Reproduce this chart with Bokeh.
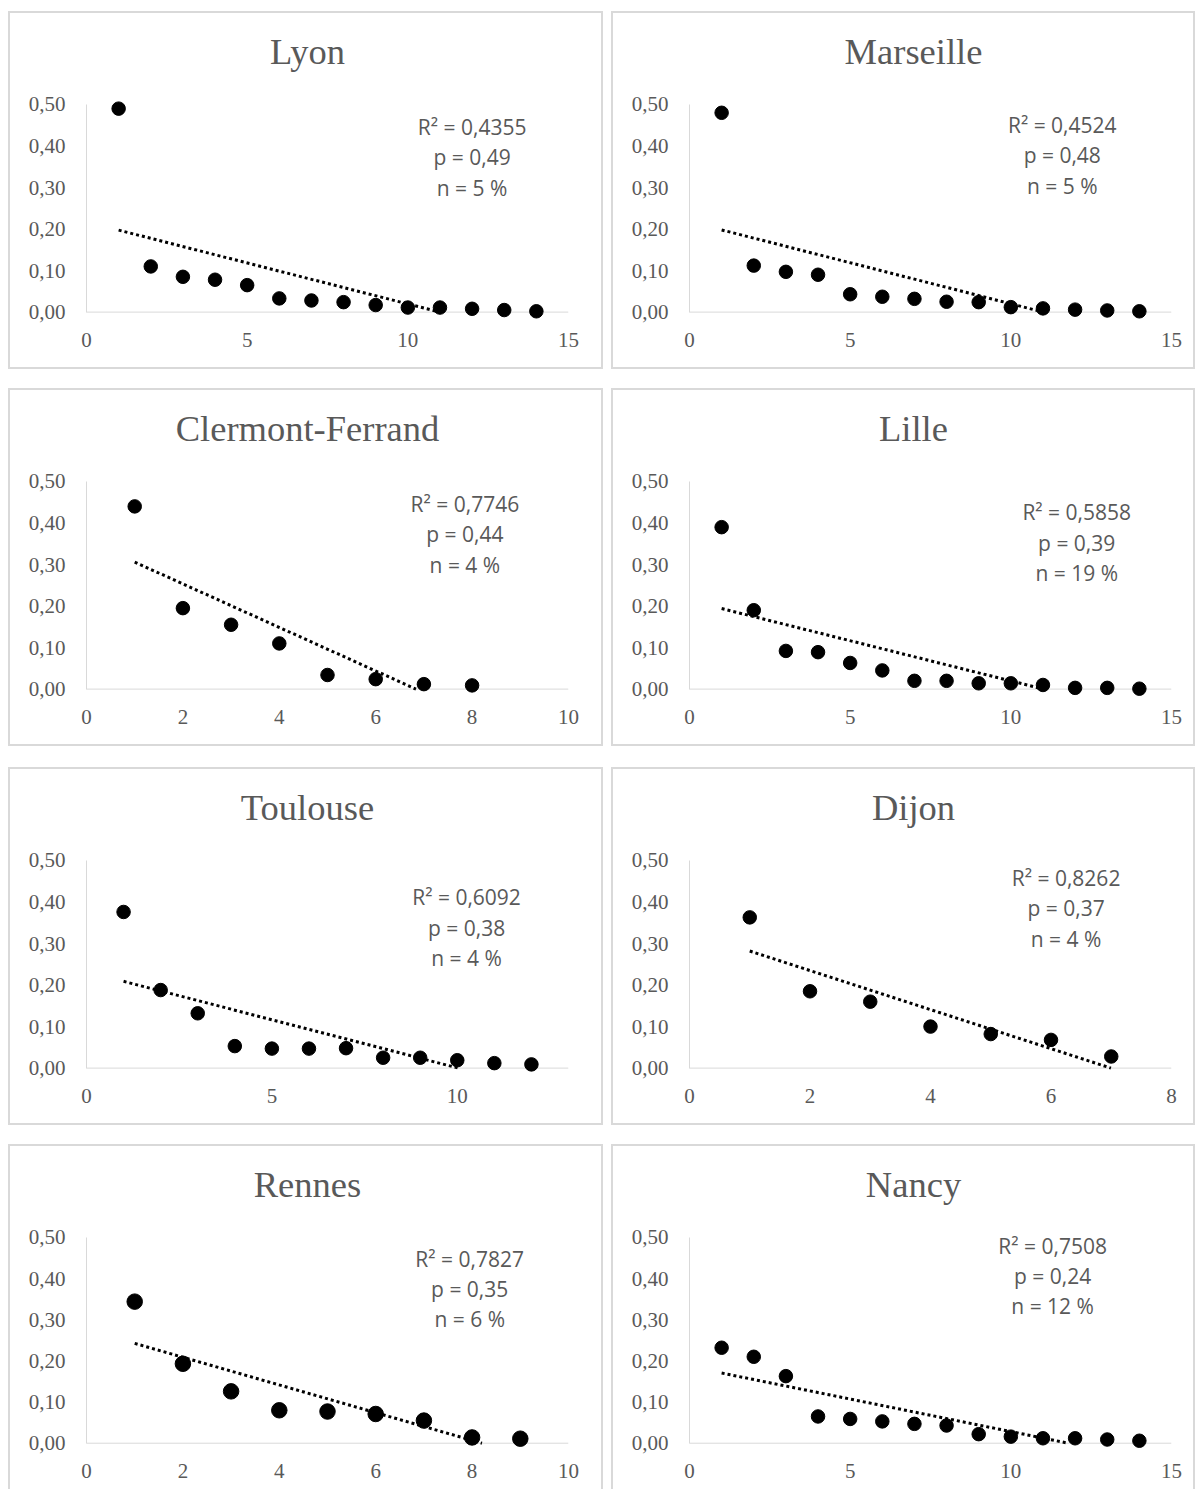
import numpy as np
from bokeh.plotting import figure
from bokeh.models import (Range1d, FixedTicker, CustomJSTickFormatter, ColumnDataSource,
                          Spacer, Span)
from bokeh.layouts import column, row
from bokeh.core.properties import value
from bokeh.embed import file_html
from bokeh.resources import INLINE

# ---------------- data ----------------
cities = ["Lyon", "Marseille", "Clermont-Ferrand", "Lille",
          "Toulouse", "Dijon", "Rennes", "Nancy"]

x_lyon = [1, 2, 3, 4, 5, 6, 7, 8, 9, 10, 11, 12, 13, 14]
y_lyon = [0.49, 0.11, 0.085, 0.078, 0.065, 0.033, 0.028, 0.024, 0.017, 0.011, 0.011, 0.008, 0.005, 0.002]

x_marseille = [1, 2, 3, 4, 5, 6, 7, 8, 9, 10, 11, 12, 13, 14]
y_marseille = [0.48, 0.112, 0.097, 0.09, 0.043, 0.037, 0.032, 0.025, 0.024, 0.012, 0.009, 0.006, 0.004, 0.002]

x_clermont = [1, 2, 3, 4, 5, 6, 7, 8]
y_clermont = [0.44, 0.195, 0.155, 0.11, 0.034, 0.024, 0.012, 0.009]

x_lille = [1, 2, 3, 4, 5, 6, 7, 8, 9, 10, 11, 12, 13, 14]
y_lille = [0.39, 0.19, 0.092, 0.089, 0.063, 0.045, 0.02, 0.02, 0.014, 0.014, 0.01, 0.003, 0.003, 0.001]

x_toulouse = [1, 2, 3, 4, 5, 6, 7, 8, 9, 10, 11, 12]
y_toulouse = [0.376, 0.188, 0.132, 0.053, 0.047, 0.047, 0.048, 0.025, 0.025, 0.019, 0.012, 0.009]

x_dijon = [1, 2, 3, 4, 5, 6, 7]
y_dijon = [0.363, 0.185, 0.16, 0.1, 0.082, 0.068, 0.028]

x_rennes = [1, 2, 3, 4, 5, 6, 7, 8, 9]
y_rennes = [0.344, 0.193, 0.126, 0.08, 0.077, 0.071, 0.055, 0.014, 0.011]

x_nancy = [1, 2, 3, 4, 5, 6, 7, 8, 9, 10, 11, 12, 13, 14]
y_nancy = [0.232, 0.21, 0.163, 0.065, 0.059, 0.053, 0.047, 0.043, 0.022, 0.016, 0.012, 0.012, 0.009, 0.006]

xs_all = [x_lyon, x_marseille, x_clermont, x_lille, x_toulouse, x_dijon, x_rennes, x_nancy]
ys_all = [y_lyon, y_marseille, y_clermont, y_lille, y_toulouse, y_dijon, y_rennes, y_nancy]

r2_text = ["0,4355", "0,4524", "0,7746", "0,5858", "0,6092", "0,8262", "0,7827", "0,7508"]
p_text = ["0,49", "0,48", "0,44", "0,39", "0,38", "0,37", "0,35", "0,24"]
n_text = ["5 %", "5 %", "4 %", "19 %", "4 %", "4 %", "6 %", "12 %"]

x_axis_max = [15, 15, 10, 15, 13, 8, 10, 15]
x_tick_labels = [[0, 5, 10, 15], [0, 5, 10, 15], [0, 2, 4, 6, 8, 10], [0, 5, 10, 15],
                 [0, 5, 10], [0, 2, 4, 6, 8], [0, 2, 4, 6, 8, 10], [0, 5, 10, 15]]
y_tick_labels = [0.0, 0.1, 0.2, 0.3, 0.4, 0.5]

# ---------------- layout / style ----------------
note_x = [12.0, 11.6, 7.85, 12.05, 10.25, 6.25, 7.95, 11.3]      # annotation centre (x data)
note_off_px = [22, 20, 22, 30, 36, 17, 21, 8]                      # first line below y=0.5, px
marker_size = [13.5, 13.5, 13.5, 13.5, 13.5, 13.5, 15.5, 13.5]

GRAY = "#595959"
BORDER = "#d9d9d9"
SERIF = "Liberation Serif"
SANS = "Open Sans"

FRAME_W = 478
FRAME_H = 219
PAD_B, PAD_T = 0.025, 0.012
PX_PER_UNIT = FRAME_H / (0.5 + PAD_B + PAD_T)
LINE_GAP = 30 / PX_PER_UNIT
LEFT_B, TOP_B = 76, 86


def make_panel(i, col, last_row):
    xs = xs_all[i]
    ys = ys_all[i]
    xmax = x_axis_max[i]
    canvas_w = 591 if col == 0 else 580
    canvas_h = 354 if not last_row else 343
    right = canvas_w - LEFT_B - FRAME_W
    bottom = canvas_h - TOP_B - FRAME_H

    p = figure(frame_width=FRAME_W, frame_height=FRAME_H,
               x_range=Range1d(0, xmax), y_range=Range1d(-PAD_B, 0.5 + PAD_T),
               output_backend="svg", toolbar_location=None,
               min_border_left=LEFT_B, min_border_right=right,
               min_border_top=TOP_B, min_border_bottom=bottom,
               background_fill_color="white", border_fill_color="white")
    p.outline_line_color = None
    p.grid.visible = False

    st = {"border": "2px solid " + BORDER}
    if last_row:
        st["border-bottom"] = "none"
    p.styles = st

    # title, centred on the whole panel (asymmetric padding shifts it)
    p.title.text = cities[i]
    p.title.text_font = SERIF
    p.title.text_font_size = "36.5px"
    p.title.text_font_style = "normal"
    p.title.text_color = GRAY
    p.title.align = "center"
    p.title.standoff = 0
    p.title.padding = dict(left=0, right=40 if col == 0 else 34, top=0, bottom=28)

    # y axis
    ya = p.yaxis[0]
    ya.ticker = FixedTicker(ticks=y_tick_labels)
    ya.formatter = CustomJSTickFormatter(code="return tick.toFixed(2).replace('.', ',');")
    ya.bounds = (0, 0.5)
    ya.axis_line_color = BORDER
    ya.axis_line_width = 1
    ya.major_tick_line_color = None
    ya.minor_tick_line_color = None
    ya.major_label_text_font = SERIF
    ya.major_label_text_font_size = "21px"
    ya.major_label_text_color = GRAY
    ya.major_label_standoff = 15

    # x axis (line drawn at y = 0 with a Span)
    xa = p.xaxis[0]
    xa.ticker = FixedTicker(ticks=x_tick_labels[i])
    xa.axis_line_color = None
    xa.major_tick_line_color = None
    xa.minor_tick_line_color = None
    xa.major_label_text_font = SERIF
    xa.major_label_text_font_size = "21px"
    xa.major_label_text_color = GRAY
    xa.major_label_standoff = 4
    p.add_layout(Span(location=0, dimension="width", line_color=BORDER,
                      line_width=1, level="underlay"))

    # linear trend line from the data, stopped where it reaches 0
    slope, icpt = np.polyfit(np.array(xs, float), np.array(ys, float), 1)
    x0 = float(min(xs))
    x1 = float(max(xs))
    if slope < 0:
        x1 = min(x1, -icpt / slope)
    p.line([x0, x1], [slope * x0 + icpt, slope * x1 + icpt],
           line_color="black", line_width=3, line_dash="3 3")

    src = ColumnDataSource(dict(x=xs, y=ys))
    p.scatter("x", "y", source=src, size=marker_size[i], fill_color="black",
              line_color="black")

    y0 = 0.5 - note_off_px[i] / PX_PER_UNIT
    notes = ColumnDataSource(dict(
        x=[note_x[i]] * 3,
        y=[y0, y0 - LINE_GAP, y0 - 2 * LINE_GAP],
        t=["R\u00b2 = " + r2_text[i], "p = " + p_text[i], "n = " + n_text[i]]))
    p.text("x", "y", text="t", source=notes, text_font=value(SANS),
           text_font_size="21px", text_color=GRAY, text_align="center",
           text_baseline="middle")
    return p


panels = []
for i in range(8):
    panels.append(make_panel(i, i % 2, i >= 6))

grid = column(
    Spacer(height=11),
    row(panels[0], panels[1], spacing=8),
    Spacer(height=19),
    row(panels[2], panels[3], spacing=8),
    Spacer(height=21),
    row(panels[4], panels[5], spacing=8),
    Spacer(height=19),
    row(panels[6], panels[7], spacing=8),
    spacing=0,
)
layout = row(Spacer(width=8), grid, spacing=0)

open("out.html", "w").write(file_html(layout, INLINE))
